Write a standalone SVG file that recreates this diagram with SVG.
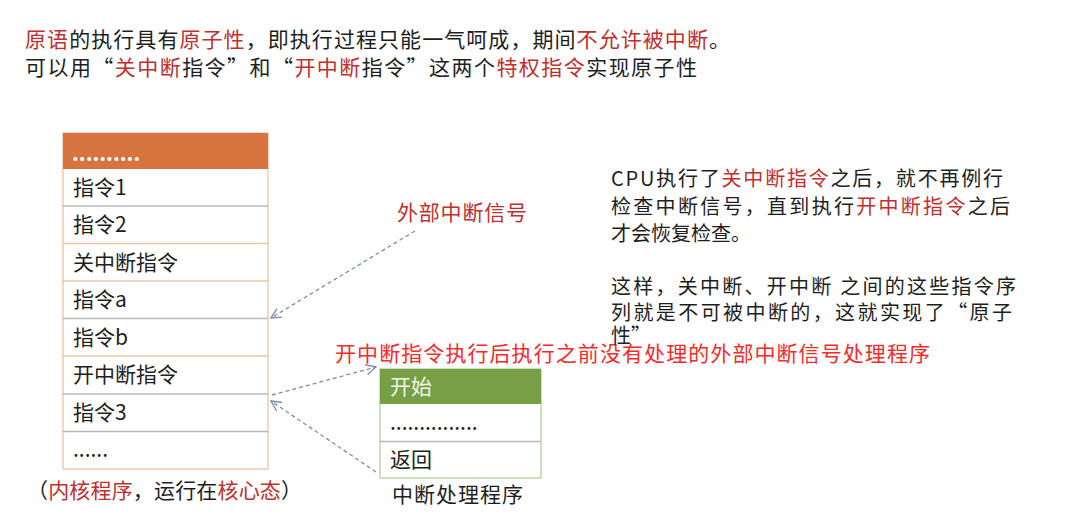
<svg xmlns="http://www.w3.org/2000/svg" width="1069" height="528" viewBox="0 0 1069 528">
<defs>
<style>
text{font-family:"Noto Sans CJK SC","Noto Sans",sans-serif;font-size:21px;fill:#1e1e1e}
.ex text{font-size:20px}
.r{fill:#c0302c}
.br{fill:#f52a2a}
.w{fill:#ffffff}
.cell{fill:#ffffff;stroke:#f2c4a2;stroke-width:1.3}
.sepg{stroke:#b8b8b8;stroke-width:1.3}
.sepo{stroke:#f2c4a2;stroke-width:1.3}
.gcell{fill:#ffffff;stroke:#b5cf98;stroke-width:1.3}
.conn{fill:none;stroke:#7d8ea6;stroke-width:1.3;stroke-dasharray:4 3}
</style>
<marker id="ah" viewBox="0 0 12 12" refX="11" refY="6" markerWidth="12" markerHeight="12" markerUnits="userSpaceOnUse" orient="auto-start-reverse">
<path d="M1,1 L11,6 L1,11" fill="none" stroke="#7d8ea6" stroke-width="1.4"/>
</marker>
</defs>
<rect width="1069" height="528" fill="#ffffff"/>

<g id="title">
<text x="25" y="47" textLength="705" lengthAdjust="spacing"><tspan class="r">原语</tspan>的执行具有<tspan class="r">原子性</tspan>，即执行过程只能一气呵成，期间<tspan class="r">不允许被中断</tspan>。</text>
<text x="25" y="75" textLength="672" lengthAdjust="spacing">可以用“<tspan class="r">关中断</tspan>指令”和“<tspan class="r">开中断</tspan>指令”这两个<tspan class="r">特权指令</tspan>实现原子性</text>
</g>

<g id="kernel-program">
<rect class="cell" x="63" y="133" width="205" height="336"/>
<rect x="63" y="133" width="205" height="36" fill="#d87440"/>
<text class="w" x="72" y="161" style="font-weight:bold">..........</text>
<line class="sepg" x1="63" y1="206" x2="268" y2="206"/>
<line class="sepo" x1="63" y1="243.5" x2="268" y2="243.5"/>
<line class="sepo" x1="63" y1="281" x2="268" y2="281"/>
<line class="sepg" x1="63" y1="318.5" x2="268" y2="318.5"/>
<line class="sepo" x1="63" y1="356" x2="268" y2="356"/>
<line class="sepg" x1="63" y1="394" x2="268" y2="394"/>
<line class="sepg" x1="63" y1="431.5" x2="268" y2="431.5"/>
<text x="73" y="195">指令1</text>
<text x="73" y="232">指令2</text>
<text x="73" y="270">关中断指令</text>
<text x="73" y="307">指令a</text>
<text x="73" y="345">指令b</text>
<text x="73" y="382">开中断指令</text>
<text x="73" y="420">指令3</text>
<text x="73" y="457">......</text>
</g>

<g id="kernel-caption">
<text x="27" y="498" textLength="275" lengthAdjust="spacing">（<tspan class="r">内核程序</tspan>，运行在<tspan class="r">核心态</tspan>）</text>
</g>

<g id="ext-signal">
<text class="r" x="397" y="220" textLength="130" lengthAdjust="spacing">外部中断信号</text>
</g>

<g id="handler">
<rect class="gcell" x="380" y="369" width="161" height="109"/>
<rect x="380" y="369" width="161" height="35" fill="#77a046"/>
<line class="sepg" x1="380" y1="441.5" x2="541" y2="441.5"/>
<text x="390" y="394" style="fill:#f2f7ea">开始</text>
<text x="390" y="430">...............</text>
<text x="390" y="467">返回</text>
<text x="392" y="502" textLength="131" lengthAdjust="spacing">中断处理程序</text>
</g>

<g id="handler-note">
<text class="br" x="335" y="361" textLength="595" lengthAdjust="spacing">开中断指令执行后执行之前没有处理的外部中断信号处理程序</text>
</g>

<g id="explanation" class="ex">
<text x="611" y="186" textLength="392" lengthAdjust="spacing">CPU执行了<tspan class="r">关中断指令</tspan>之后，就不再例行</text>
<text x="611" y="214" textLength="399" lengthAdjust="spacing">检查中断信号，直到执行<tspan class="r">开中断指令</tspan>之后</text>
<text x="611" y="241">才会恢复检查。</text>
<text x="611" y="294" textLength="405" lengthAdjust="spacing">这样，关中断、开中断 之间的这些指令序</text>
<text x="611" y="320" textLength="401" lengthAdjust="spacing">列就是不可被中断的，这就实现了“原子</text>
<text x="611" y="343">性”</text>
</g>

<g id="connectors">
<path class="conn" d="M415,231 L271,318" marker-end="url(#ah)"/>
<path class="conn" d="M272,395 L376,367" marker-end="url(#ah)"/>
<path class="conn" d="M376,472 L271,401" marker-end="url(#ah)"/>
</g>
</svg>
